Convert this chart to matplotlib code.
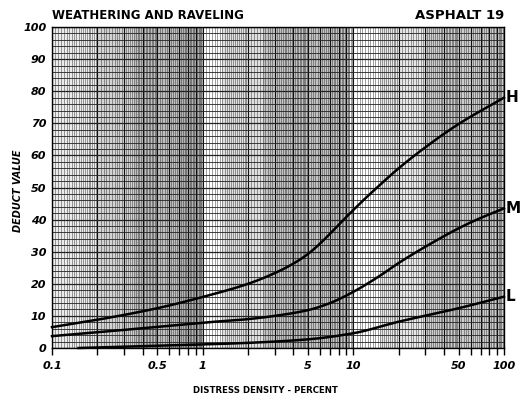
import numpy as np
import matplotlib
matplotlib.use("Agg")
import matplotlib.pyplot as plt
from matplotlib.ticker import FixedLocator, NullFormatter

# ---- data ----
h_x = [0.1, 0.2, 0.5, 1, 2, 3, 4, 5, 6, 7, 8, 10, 12, 15, 20, 30, 50, 100]
h_y = [6.5, 8.8, 12.4, 15.9, 20.0, 23.3, 26.3, 29.3, 32.5, 35.6, 38.4, 43.0, 46.6, 50.8, 56.0, 62.5, 69.8, 78.0]

m_x = [0.1, 0.2, 0.5, 1, 2, 3, 5, 7, 10, 15, 20, 34, 50, 66, 100]
m_y = [3.7, 4.9, 6.6, 7.9, 9.0, 10.0, 11.8, 14.0, 17.5, 22.5, 26.5, 33.0, 37.3, 40.0, 43.5]

l_x = [0.15, 0.3, 0.5, 1, 2, 5, 10, 20, 50, 100]
l_y = [0.0, 0.4, 0.7, 1.1, 1.6, 2.7, 4.6, 8.2, 12.4, 16.0]

x_ticks = [0.1, 0.5, 1, 5, 10, 50, 100]
x_tick_labels = ["0.1", "0.5", "1", "5", "10", "50", "100"]
y_ticks = list(range(0, 101, 10))

# scan-shading bands (x ranges, gray level alpha)
bands = [(0.1, 0.2, 0.10), (0.2, 0.35, 0.22), (0.35, 0.7, 0.32), (0.7, 1.0, 0.38),
         (1.35, 2.5, 0.15), (2.5, 9.5, 0.30), (15, 30, 0.12), (30, 100, 0.25)]


def smooth(xs, ys):
    lx = np.log10(xs)
    ys = np.asarray(ys, float)
    t = np.linspace(lx[0], lx[-1], 400)
    h = np.diff(lx)
    dlt = np.diff(ys) / h
    m = np.zeros(len(lx))
    m[0], m[-1] = dlt[0], dlt[-1]
    for i in range(1, len(lx) - 1):
        if dlt[i - 1] * dlt[i] <= 0:
            m[i] = 0
        else:
            w1 = 2 * h[i] + h[i - 1]
            w2 = h[i] + 2 * h[i - 1]
            m[i] = (w1 + w2) / (w1 / dlt[i - 1] + w2 / dlt[i])
    out = np.empty_like(t)
    for j, tv in enumerate(t):
        i = min(np.searchsorted(lx, tv, side="right") - 1, len(lx) - 2)
        s = (tv - lx[i]) / h[i]
        h00 = 2 * s**3 - 3 * s**2 + 1
        h10 = s**3 - 2 * s**2 + s
        h01 = -2 * s**3 + 3 * s**2
        h11 = s**3 - s**2
        out[j] = h00 * ys[i] + h10 * h[i] * m[i] + h01 * ys[i + 1] + h11 * h[i] * m[i + 1]
    return 10 ** t, out


fig = plt.figure(figsize=(5.22, 3.98), dpi=100)
ax = fig.add_axes([0.0996, 0.1256, 0.8659, 0.8064])
ax.set_xscale("log")
ax.set_xlim(0.1, 100)
ax.set_ylim(0, 100)

for a, b, al in bands:
    ax.axvspan(a, b, color="black", alpha=al * 0.8, lw=0, zorder=0)

# dense log-paper grid
minor_v = []
major_v = []
for d in [0.1, 1, 10]:
    minor_v += list(np.arange(1, 2, 0.05) * d) + list(np.arange(2, 5, 0.1) * d) + list(np.arange(5, 10, 0.2) * d)
    major_v += [k * d for k in range(1, 10)]
for xv in minor_v:
    ax.axvline(xv, color="#333333", lw=0.45, alpha=0.75, zorder=1)
for xv in major_v:
    ax.axvline(xv, color="#111111", lw=0.8, zorder=1)
for yv in range(0, 101, 2):
    ax.axhline(yv, color="#222222", lw=0.9 if yv % 10 == 0 else 0.6, zorder=1)

for xs, ys, lab in [(h_x, h_y, "H"), (m_x, m_y, "M"), (l_x, l_y, "L")]:
    sx, sy = smooth(xs, ys)
    ax.plot(sx, sy, color="black", lw=1.8, zorder=3, clip_on=False)
    ax.text(1.004, ys[-1], lab, transform=ax.get_yaxis_transform(), fontsize=11,
            fontweight="bold", va="center", ha="left")

for s in ax.spines.values():
    s.set_linewidth(1.0)

ax.xaxis.set_major_locator(FixedLocator(x_ticks))
ax.set_xticklabels(x_tick_labels, fontsize=8, fontweight="bold", fontstyle="italic")
minor_t = [k * d for d in [0.1, 1, 10] for k in range(2, 10) if k != 5]
ax.xaxis.set_minor_locator(FixedLocator(minor_t))
ax.xaxis.set_minor_formatter(NullFormatter())
ax.tick_params(axis="x", which="both", direction="out", length=5, width=1, pad=4)
ax.set_yticks(y_ticks)
ax.set_yticklabels([str(v) for v in y_ticks], fontsize=8, fontweight="bold", fontstyle="italic")
ax.tick_params(axis="y", length=0, pad=4)

fig.text(0.0996, 0.96, "WEATHERING AND RAVELING", fontsize=8.5, fontweight="bold", ha="left", va="center")
fig.text(0.966, 0.96, "ASPHALT 19", fontsize=9.5, fontweight="bold", ha="right", va="center")
fig.text(0.035, 0.52, "DEDUCT VALUE", rotation=90, fontsize=7, fontweight="bold", fontstyle="italic",
         ha="center", va="center")
fig.text(0.508, 0.02, "DISTRESS DENSITY - PERCENT", fontsize=6.2, fontweight="bold", ha="center", va="center")

fig.savefig("out.png", dpi=100)
